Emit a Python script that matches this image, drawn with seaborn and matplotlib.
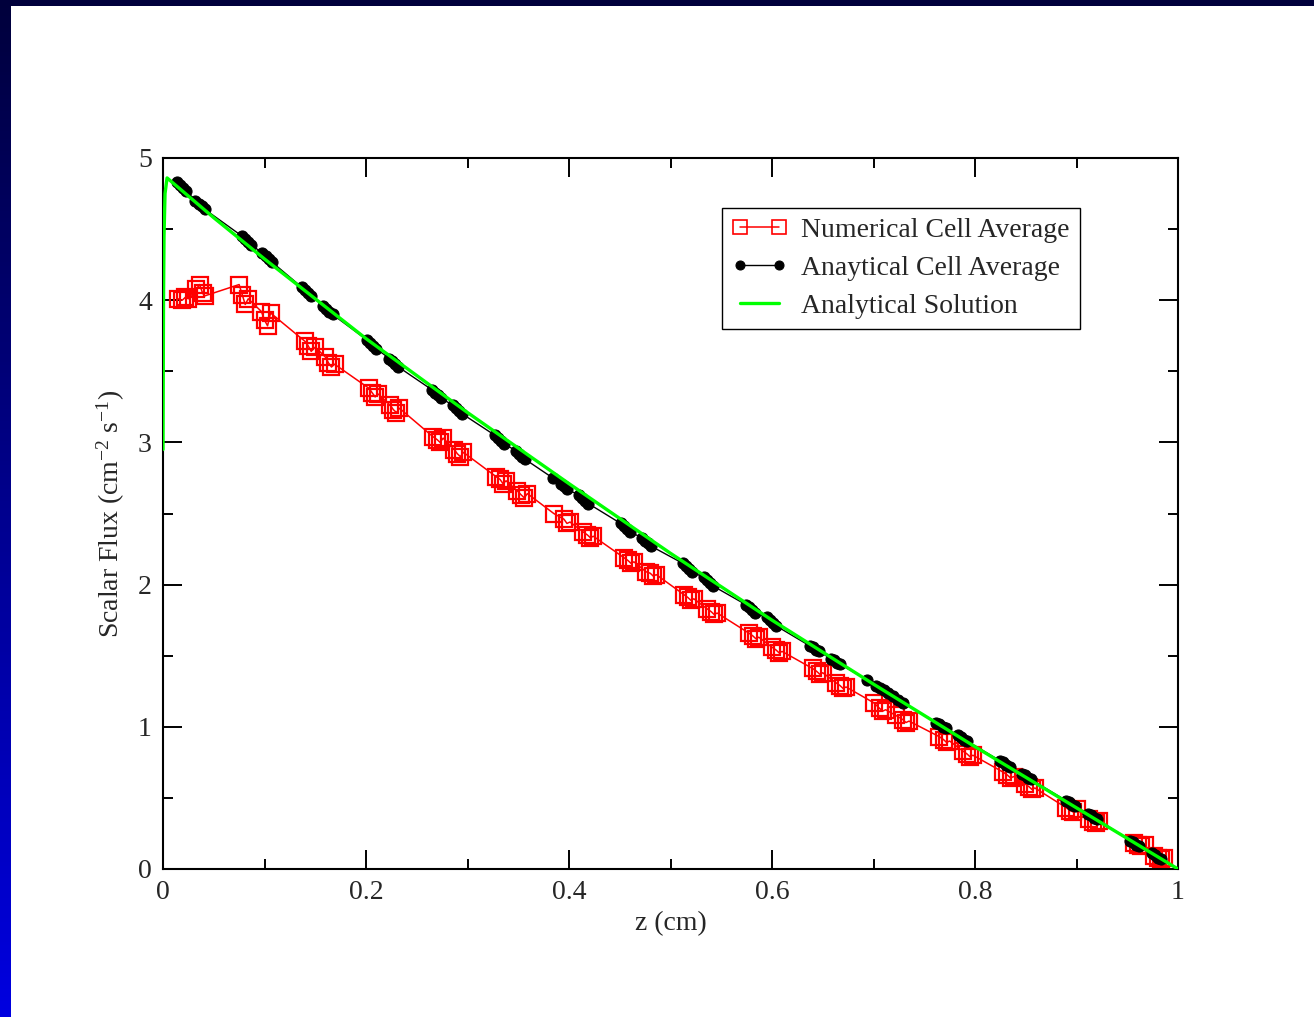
import numpy as np
import matplotlib
matplotlib.use("Agg")
import matplotlib.pyplot as plt
import seaborn as sns
from matplotlib.patches import Rectangle

# ---- data ----

# analytical solution (green curve)
z_exact = [0.0, 0.0005, 0.001, 0.002, 0.004, 0.05, 0.1, 0.2, 0.3, 0.4,
           0.5, 0.6, 0.7, 0.8, 0.9, 1.0]
flux_exact = [2.95, 4.00, 4.45, 4.75, 4.86, 4.58, 4.29, 3.73, 3.21, 2.71,
              2.22, 1.75, 1.30, 0.86, 0.43, 0.0]

# analytical cell averages (black dots)
z_ana = [0.014, 0.017, 0.020, 0.023, 0.032, 0.035, 0.038, 0.041,
         0.078, 0.081, 0.084, 0.087, 0.098, 0.101, 0.104, 0.107,
         0.137, 0.140, 0.143, 0.146, 0.158, 0.161, 0.164, 0.167,
         0.201, 0.204, 0.207, 0.210, 0.223, 0.226, 0.229, 0.232,
         0.265, 0.268, 0.271, 0.274, 0.286, 0.289, 0.292, 0.295,
         0.327, 0.330, 0.333, 0.336, 0.348, 0.351, 0.354, 0.357,
         0.384, 0.392, 0.395, 0.398, 0.410, 0.413, 0.416, 0.419,
         0.451, 0.454, 0.457, 0.460, 0.472, 0.475, 0.478, 0.481,
         0.512, 0.515, 0.518, 0.521, 0.533, 0.536, 0.539, 0.542,
         0.574, 0.577, 0.580, 0.583, 0.595, 0.598, 0.601, 0.604,
         0.637, 0.640, 0.643, 0.646, 0.658, 0.661, 0.664, 0.667,
         0.694, 0.702, 0.706, 0.710, 0.714, 0.719, 0.724, 0.729,
         0.762, 0.765, 0.768, 0.771, 0.783, 0.786, 0.789, 0.792,
         0.825, 0.828, 0.831, 0.834, 0.846, 0.849, 0.852, 0.855,
         0.890, 0.893, 0.896, 0.899, 0.911, 0.914, 0.917, 0.920,
         0.953, 0.956, 0.959, 0.962, 0.974, 0.977, 0.980, 0.983]
flux_ana = [4.83, 4.81, 4.79, 4.77, 4.70, 4.68, 4.66, 4.64,
            4.45, 4.43, 4.41, 4.39, 4.33, 4.31, 4.29, 4.27,
            4.09, 4.07, 4.05, 4.03, 3.96, 3.94, 3.92, 3.90,
            3.72, 3.70, 3.68, 3.66, 3.59, 3.57, 3.55, 3.53,
            3.37, 3.35, 3.33, 3.31, 3.26, 3.24, 3.22, 3.20,
            3.05, 3.03, 3.01, 2.99, 2.94, 2.92, 2.90, 2.88,
            2.75, 2.71, 2.69, 2.67, 2.63, 2.61, 2.59, 2.57,
            2.43, 2.41, 2.39, 2.37, 2.33, 2.31, 2.29, 2.27,
            2.15, 2.13, 2.11, 2.09, 2.05, 2.03, 2.01, 1.99,
            1.86, 1.84, 1.82, 1.80, 1.77, 1.75, 1.73, 1.71,
            1.57, 1.56, 1.54, 1.53, 1.48, 1.47, 1.45, 1.44,
            1.33, 1.29, 1.27, 1.26, 1.24, 1.22, 1.19, 1.17,
            1.03, 1.02, 1.00, 0.99, 0.94, 0.93, 0.91, 0.90,
            0.76, 0.75, 0.73, 0.72, 0.67, 0.66, 0.64, 0.63,
            0.48, 0.47, 0.45, 0.44, 0.39, 0.38, 0.36, 0.35,
            0.20, 0.19, 0.17, 0.16, 0.11, 0.10, 0.08, 0.07]

# numerical cell averages (red squares)
z_num = [0.015, 0.019, 0.022, 0.025, 0.033, 0.036, 0.039, 0.041,
         0.075, 0.078, 0.081, 0.084, 0.097, 0.100, 0.103, 0.106,
         0.140, 0.143, 0.146, 0.150, 0.160, 0.163, 0.166, 0.169,
         0.203, 0.206, 0.209, 0.212, 0.224, 0.227, 0.230, 0.233,
         0.266, 0.270, 0.273, 0.276, 0.287, 0.290, 0.293, 0.296,
         0.328, 0.332, 0.335, 0.338, 0.349, 0.353, 0.356, 0.359,
         0.385, 0.395, 0.398, 0.401, 0.414, 0.418, 0.421, 0.424,
         0.454, 0.458, 0.461, 0.464, 0.476, 0.480, 0.483, 0.486,
         0.513, 0.517, 0.520, 0.523, 0.536, 0.540, 0.543, 0.546,
         0.577, 0.581, 0.584, 0.587, 0.600, 0.604, 0.607, 0.610,
         0.640, 0.644, 0.647, 0.650, 0.663, 0.667, 0.670, 0.673,
         0.700, 0.706, 0.709, 0.712, 0.722, 0.729, 0.732, 0.735,
         0.765, 0.769, 0.772, 0.775, 0.788, 0.792, 0.795, 0.798,
         0.828, 0.832, 0.835, 0.838, 0.849, 0.853, 0.856, 0.859,
         0.890, 0.894, 0.897, 0.900, 0.912, 0.916, 0.919, 0.922,
         0.957, 0.961, 0.964, 0.967, 0.976, 0.980, 0.983, 0.986]
flux_num = [4.01, 4.00, 4.02, 4.01, 4.08, 4.11, 4.05, 4.03,
            4.11, 4.04, 3.97, 4.01, 3.92, 3.86, 3.82, 3.91,
            3.71, 3.68, 3.64, 3.67, 3.60, 3.56, 3.53, 3.55,
            3.38, 3.35, 3.32, 3.34, 3.26, 3.23, 3.21, 3.24,
            3.04, 3.02, 3.00, 3.03, 2.95, 2.92, 2.90, 2.93,
            2.76, 2.74, 2.71, 2.73, 2.66, 2.63, 2.61, 2.64,
            2.50, 2.46, 2.43, 2.44, 2.37, 2.35, 2.33, 2.34,
            2.19, 2.17, 2.15, 2.16, 2.09, 2.08, 2.06, 2.07,
            1.93, 1.91, 1.89, 1.90, 1.83, 1.81, 1.79, 1.80,
            1.66, 1.64, 1.62, 1.63, 1.56, 1.54, 1.52, 1.53,
            1.41, 1.39, 1.37, 1.38, 1.31, 1.29, 1.27, 1.28,
            1.17, 1.13, 1.11, 1.12, 1.08, 1.05, 1.03, 1.04,
            0.93, 0.91, 0.89, 0.90, 0.83, 0.81, 0.79, 0.80,
            0.68, 0.66, 0.64, 0.65, 0.60, 0.58, 0.56, 0.57,
            0.43, 0.41, 0.40, 0.42, 0.35, 0.33, 0.32, 0.34,
            0.18, 0.17, 0.16, 0.17, 0.09, 0.08, 0.07, 0.08]

xticks = [0, 0.2, 0.4, 0.6, 0.8, 1.0]
xtick_labels = ["0", "0.2", "0.4", "0.6", "0.8", "1"]
yticks = [0, 1, 2, 3, 4, 5]

# ---- style ----
sns.set_style("ticks")
plt.rcParams["font.family"] = ["Liberation Serif", "DejaVu Serif"]
plt.rcParams["mathtext.fontset"] = "custom"
plt.rcParams["mathtext.rm"] = "Liberation Serif"
plt.rcParams["mathtext.it"] = "Liberation Serif:italic"
plt.rcParams["font.size"] = 20

fig = plt.figure(figsize=(13.14, 10.17), dpi=100)
fig.patch.set_facecolor("white")

# dark frame bits of the slide background
fig.patches.append(Rectangle((0, 1 - 6 / 1017), 1, 6 / 1017, transform=fig.transFigure,
                             facecolor="#00003c", edgecolor="none", zorder=0))
band = fig.add_axes([0, 0, 11 / 1314, 1])
grad = np.linspace(0, 1, 256).reshape(-1, 1)
cmap = matplotlib.colors.LinearSegmentedColormap.from_list("slide", ["#00003c", "#0000e0"])
band.imshow(grad, aspect="auto", cmap=cmap, extent=[0, 1, 0, 1], origin="upper")
band.axis("off")

ax = fig.add_axes([163 / 1314, 1 - 869 / 1017, 1015 / 1314, 711 / 1017])

sns.lineplot(x=z_num, y=flux_num, ax=ax, sort=False, estimator=None,
             color="#ff0000", linewidth=1.1, marker="s", markersize=11,
             markerfacecolor="none", markeredgecolor="#ff0000", markeredgewidth=1.6,
             label="Numerical Cell Average", zorder=2)
sns.lineplot(x=z_ana, y=flux_ana, ax=ax, sort=False, estimator=None,
             color="black", linewidth=1.0, marker="o", markersize=8,
             markeredgecolor="black", label="Anaytical Cell Average", zorder=3)
sns.lineplot(x=z_exact, y=flux_exact, ax=ax, sort=False, estimator=None,
             color="#00ff00", linewidth=2.4, label="Analytical Solution", zorder=4)

ax.set_xlim(0, 1)
ax.set_ylim(0, 5)
ax.set_xticks(xticks)
ax.set_xticklabels(xtick_labels)
ax.set_yticks(yticks)
ax.set_xticks(np.arange(0.1, 1.0, 0.2), minor=True)
ax.set_yticks(np.arange(0.5, 5.0, 1.0), minor=True)
ax.tick_params(which="both", direction="in", top=True, right=True,
               labelsize=20, width=1.4, color="black")
ax.tick_params(which="major", length=14, pad=8)
ax.tick_params(which="minor", length=7)
for s in ax.spines.values():
    s.set_linewidth(1.5)
    s.set_color("black")

ax.set_xlabel("z (cm)", fontsize=20, labelpad=4)
ax.set_ylabel("Scalar Flux (cm$^{-2}$ s$^{-1}$)", fontsize=20, labelpad=8)

leg = ax.legend(loc="upper left", bbox_to_anchor=(0.551, 0.930), borderaxespad=0,
                numpoints=2, fontsize=20, frameon=True, fancybox=False,
                handlelength=2.0, handletextpad=0.5, borderpad=0.35,
                labelspacing=0.45)
leg.get_frame().set_edgecolor("black")
leg.get_frame().set_linewidth(1.0)
leg.get_frame().set_alpha(1)
for h in leg.legend_handles:
    if h.get_marker() == "o":
        h.set_markersize(6.5)
    if h.get_marker() == "s":
        h.set_markersize(10)
        h.set_markeredgewidth(1.2)

fig.savefig("out.png", dpi=100, facecolor="white")
